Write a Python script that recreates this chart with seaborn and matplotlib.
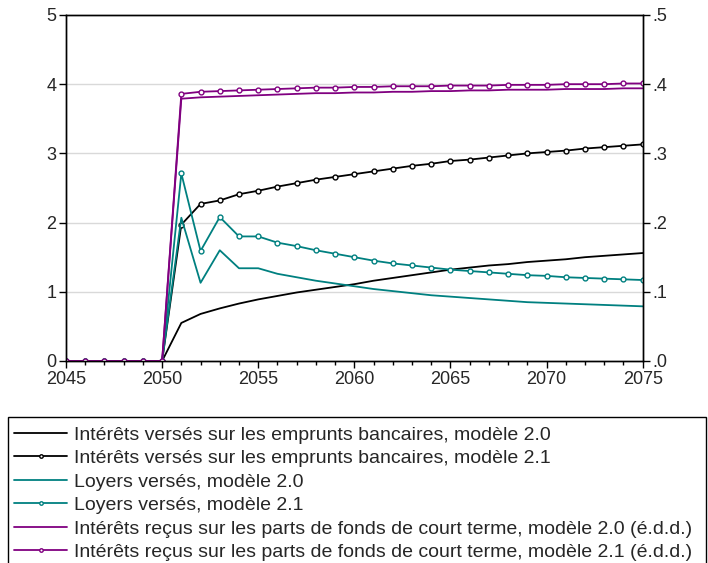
import numpy as np
import pandas as pd
import seaborn as sns
import matplotlib.pyplot as plt
from matplotlib.patches import Rectangle
from matplotlib.ticker import MultipleLocator, FuncFormatter

years = list(range(2045, 2076))
zeros = [0.0] * 6

bank_20 = zeros + [0.55, 0.68, 0.76, 0.83, 0.89, 0.94, 0.99, 1.03, 1.07, 1.11,
                   1.16, 1.20, 1.24, 1.28, 1.32, 1.35, 1.38, 1.40, 1.43, 1.45,
                   1.47, 1.50, 1.52, 1.54, 1.56]
bank_21 = zeros + [1.97, 2.27, 2.32, 2.41, 2.46, 2.52, 2.57, 2.62, 2.66, 2.70,
                   2.74, 2.78, 2.82, 2.85, 2.89, 2.91, 2.94, 2.97, 3.00, 3.02,
                   3.04, 3.07, 3.09, 3.11, 3.13]
rent_20 = zeros + [2.07, 1.13, 1.60, 1.34, 1.34, 1.26, 1.21, 1.16, 1.12, 1.08,
                   1.04, 1.01, 0.98, 0.95, 0.93, 0.91, 0.89, 0.87, 0.85, 0.84,
                   0.83, 0.82, 0.81, 0.80, 0.79]
rent_21 = zeros + [2.71, 1.59, 2.08, 1.80, 1.80, 1.71, 1.66, 1.60, 1.55, 1.50,
                   1.45, 1.41, 1.38, 1.35, 1.32, 1.30, 1.28, 1.26, 1.24, 1.23,
                   1.21, 1.20, 1.19, 1.18, 1.17]
# right axis (é.d.d.)
fund_20 = zeros + [0.379, 0.381, 0.382, 0.383, 0.384, 0.385, 0.386, 0.387, 0.387, 0.388,
                   0.388, 0.389, 0.389, 0.390, 0.390, 0.391, 0.391, 0.392, 0.392, 0.392,
                   0.393, 0.393, 0.393, 0.394, 0.394]
fund_21 = zeros + [0.386, 0.389, 0.390, 0.391, 0.392, 0.393, 0.394, 0.395, 0.395, 0.396,
                   0.396, 0.397, 0.397, 0.397, 0.398, 0.398, 0.398, 0.399, 0.399, 0.399,
                   0.400, 0.400, 0.400, 0.401, 0.401]

labels = [
    "Intérêts versés sur les emprunts bancaires, modèle 2.0",
    "Intérêts versés sur les emprunts bancaires, modèle 2.1",
    "Loyers versés, modèle 2.0",
    "Loyers versés, modèle 2.1",
    "Intérêts reçus sur les parts de fonds de court terme, modèle 2.0 (é.d.d.)",
    "Intérêts reçus sur les parts de fonds de court terme, modèle 2.1 (é.d.d.)",
]

black = "#000000"
teal = "#008080"
purple = "#800080"

sns.set_style("white")
plt.rcParams['font.family'] = ['Liberation Sans', 'DejaVu Sans']

fig = plt.figure(figsize=(7.08, 5.63), dpi=100)
ax = fig.add_axes([0.0932, 0.3588, 0.8146, 0.6146])
ax2 = ax.twinx()

mk = dict(marker='o', markersize=3.5, markerfacecolor='white', markeredgewidth=1)
lw = 1.3

sns.lineplot(x=years, y=bank_20, ax=ax, color=black, linewidth=lw)
sns.lineplot(x=years, y=bank_21, ax=ax, color=black, linewidth=lw, markeredgecolor=black, **mk)
sns.lineplot(x=years, y=rent_20, ax=ax, color=teal, linewidth=lw)
sns.lineplot(x=years, y=rent_21, ax=ax, color=teal, linewidth=lw, markeredgecolor=teal, **mk)
sns.lineplot(x=years, y=fund_20, ax=ax2, color=purple, linewidth=lw)
sns.lineplot(x=years, y=fund_21, ax=ax2, color=purple, linewidth=lw, markeredgecolor=purple, **mk)

ax.set_xlim(2045, 2075)
ax.set_ylim(0, 5)
ax2.set_ylim(0, 0.5)
ax.xaxis.set_major_locator(MultipleLocator(5))
ax.xaxis.set_minor_locator(MultipleLocator(1))
ax.yaxis.set_major_locator(MultipleLocator(1))
ax2.yaxis.set_major_locator(MultipleLocator(0.1))
ax2.yaxis.set_major_formatter(FuncFormatter(lambda v, p: ('%.1f' % v).lstrip('0')))

for y in [1, 2, 3, 4]:
    ax.axhline(y, color='#d9d9d9', linewidth=1, zorder=0)

for a in (ax, ax2):
    for s in a.spines.values():
        s.set_color('black')
        s.set_linewidth(1)
ax.tick_params(axis='both', which='major', direction='out', length=5, width=1,
               labelsize=13, bottom=True, left=True, color='black', pad=2)
ax.tick_params(axis='x', which='minor', direction='out', length=3, width=1,
               bottom=True, color='black')
ax2.tick_params(axis='y', direction='out', length=5, width=1, labelsize=13,
                right=True, color='black', pad=2)
ax.set_xlabel("")
ax.set_ylabel("")
ax2.set_ylabel("")

handles = []
for c, m in [(black, False), (black, True), (teal, False), (teal, True), (purple, False), (purple, True)]:
    if m:
        h, = ax.plot([], [], color=c, linewidth=lw, marker='o', markersize=2.5,
                     markerfacecolor='white', markeredgecolor=c)
    else:
        h, = ax.plot([], [], color=c, linewidth=lw)
    handles.append(h)

leg = fig.legend(handles, labels, loc='upper left', bbox_to_anchor=(0.02, 0.243),
                 fontsize=14, frameon=False, handlelength=2.73,
                 handletextpad=0.35, labelspacing=0.3, borderpad=0,
                 borderaxespad=0)

# legend box, left/top/right edges (bottom runs off the image)
fig.patches.append(Rectangle((8 / 708, -0.05), 698 / 708, 0.05 + (563 - 417) / 563,
                             transform=fig.transFigure, fill=False,
                             edgecolor='black', linewidth=1))

fig.savefig("out.png", dpi=100)
